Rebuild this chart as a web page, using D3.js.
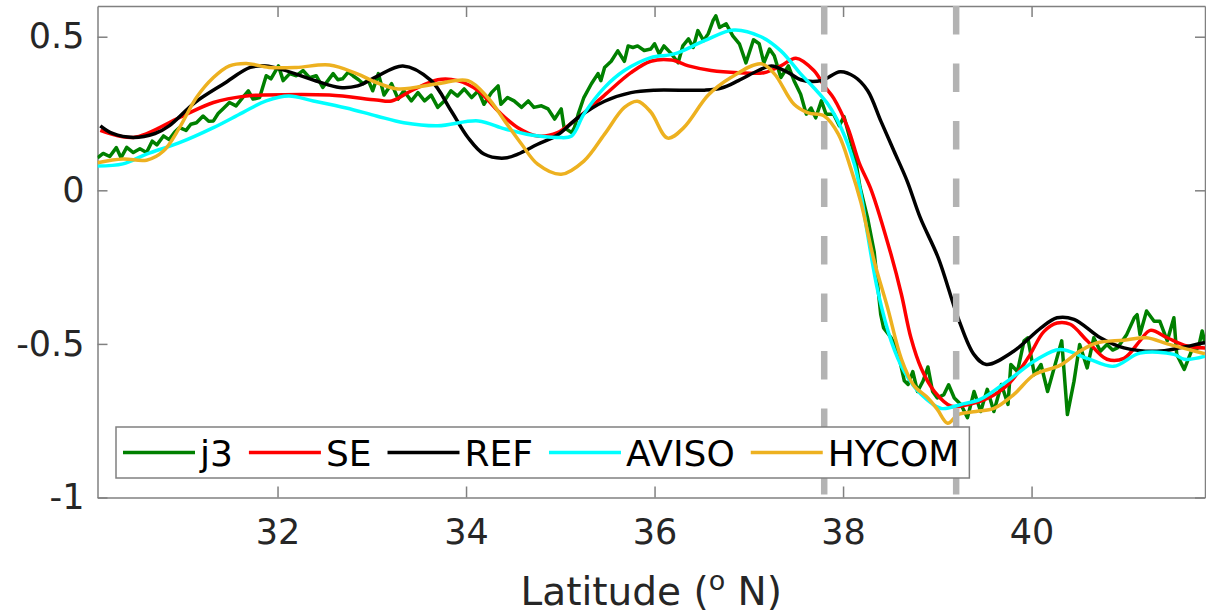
<!DOCTYPE html>
<html>
<head>
<meta charset="utf-8">
<script src="https://cdn.jsdelivr.net/npm/d3@7"></script>
<style>
  body { margin: 0; background: #fff; }
  svg { display: block; font-family: "DejaVu Sans", sans-serif; }
</style>
</head>
<body>
<div id="chart"></div>
<script>
// Series as [latitude, value] pairs
const j3 = [
  [30.09,0.106],[30.15,0.12],[30.22,0.11],[30.29,0.139],[30.34,0.106],[30.40,0.14],[30.47,0.123],[30.54,0.135],
  [30.61,0.123],[30.67,0.16],[30.72,0.148],[30.79,0.177],[30.85,0.165],[30.91,0.19],[30.96,0.204],[31.03,0.195],
  [31.08,0.215],[31.14,0.22],[31.21,0.242],[31.27,0.225],[31.32,0.226],[31.37,0.25],[31.42,0.265],[31.49,0.286],
  [31.56,0.275],[31.63,0.302],[31.69,0.324],[31.74,0.297],[31.81,0.302],[31.88,0.373],[31.93,0.363],[32.01,0.405],
  [32.06,0.357],[32.13,0.38],[32.20,0.373],[32.27,0.39],[32.34,0.367],[32.41,0.373],[32.48,0.335],[32.59,0.38],
  [32.64,0.36],[32.69,0.363],[32.75,0.385],[32.80,0.373],[32.86,0.36],[32.91,0.347],[32.96,0.36],[33.01,0.324],
  [33.07,0.38],[33.13,0.31],[33.21,0.347],[33.28,0.297],[33.34,0.324],[33.42,0.291],[33.49,0.318],[33.56,0.291],
  [33.63,0.31],[33.70,0.27],[33.77,0.291],[33.84,0.324],[33.91,0.307],[33.98,0.33],[34.06,0.302],[34.13,0.324],
  [34.19,0.28],[34.27,0.318],[34.34,0.34],[34.37,0.28],[34.44,0.302],[34.51,0.291],[34.59,0.27],[34.66,0.291],
  [34.72,0.27],[34.80,0.275],[34.87,0.265],[34.94,0.232],[35.01,0.265],[35.04,0.204],[35.12,0.188],[35.15,0.204],
  [35.19,0.248],[35.25,0.302],[35.33,0.347],[35.40,0.38],[35.43,0.357],[35.47,0.40],[35.54,0.42],[35.61,0.454],
  [35.68,0.42],[35.72,0.47],[35.77,0.465],[35.82,0.47],[35.89,0.455],[35.96,0.46],[36.00,0.477],[36.05,0.444],
  [36.10,0.47],[36.18,0.444],[36.25,0.415],[36.30,0.47],[36.36,0.493],[36.41,0.465],[36.46,0.52],[36.52,0.487],
  [36.57,0.51],[36.62,0.552],[36.65,0.568],[36.69,0.53],[36.76,0.542],[36.83,0.503],[36.90,0.477],[36.97,0.415],
  [37.05,0.49],[37.11,0.477],[37.16,0.415],[37.22,0.46],[37.27,0.438],[37.34,0.367],[37.42,0.405],[37.48,0.357],
  [37.55,0.313],[37.61,0.248],[37.66,0.268],[37.71,0.236],[37.77,0.291],[37.82,0.248],[37.90,0.248],[37.96,0.21],
  [38.01,0.24],[38.08,0.16],[38.13,0.105],[38.18,0.01],[38.26,-0.09],[38.33,-0.2],[38.40,-0.405],[38.43,-0.448],
  [38.51,-0.48],[38.58,-0.524],[38.65,-0.62],[38.69,-0.632],[38.74,-0.59],[38.79,-0.655],[38.85,-0.62],[38.90,-0.575],
  [38.95,-0.655],[39.00,-0.676],[39.07,-0.665],[39.12,-0.633],[39.18,-0.676],[39.25,-0.697],[39.32,-0.74],[39.39,-0.655],
  [39.46,-0.72],[39.53,-0.648],[39.60,-0.72],[39.68,-0.632],[39.75,-0.697],[39.78,-0.567],[39.85,-0.59],[39.92,-0.49],
  [39.96,-0.48],[40.03,-0.6],[40.10,-0.567],[40.17,-0.655],[40.24,-0.578],[40.32,-0.49],[40.38,-0.73],[40.45,-0.622],
  [40.51,-0.502],[40.59,-0.578],[40.66,-0.48],[40.73,-0.524],[40.80,-0.502],[40.86,-0.52],[40.91,-0.513],[41.01,-0.469],
  [41.09,-0.415],[41.12,-0.405],[41.15,-0.469],[41.22,-0.393],[41.30,-0.426],[41.36,-0.426],[41.44,-0.49],[41.51,-0.415],
  [41.54,-0.534],[41.62,-0.583],[41.70,-0.52],[41.77,-0.513],[41.81,-0.458],[41.84,-0.497]
];

const se = [
  [30.12,0.195],[30.47,0.172],[30.96,0.237],[31.32,0.286],[31.67,0.307],[31.85,0.31],[32.55,0.31],[33.05,0.294],
  [33.21,0.291],[33.42,0.324],[33.70,0.36],[33.91,0.357],[34.13,0.324],[34.34,0.258],[34.55,0.204],[34.76,0.177],
  [34.97,0.188],[35.19,0.237],[35.47,0.31],[35.75,0.383],[35.96,0.42],[36.18,0.424],[36.36,0.405],[36.60,0.39],
  [36.89,0.383],[37.16,0.383],[37.34,0.405],[37.50,0.43],[37.69,0.39],[37.80,0.34],[37.90,0.30],[38.05,0.204],
  [38.17,0.09],[38.30,0.0],[38.51,-0.21],[38.62,-0.34],[38.72,-0.48],[38.83,-0.58],[38.97,-0.655],[39.15,-0.703],
  [39.33,-0.697],[39.54,-0.676],[39.75,-0.632],[39.96,-0.547],[40.13,-0.46],[40.27,-0.432],[40.41,-0.436],[40.59,-0.49],
  [40.80,-0.55],[40.98,-0.547],[41.15,-0.49],[41.26,-0.456],[41.44,-0.48],[41.65,-0.507],[41.84,-0.513]
];

const ref = [
  [30.12,0.21],[30.25,0.185],[30.47,0.172],[30.70,0.185],[30.85,0.21],[31.12,0.285],[31.43,0.347],[31.71,0.40],
  [31.88,0.405],[32.06,0.392],[32.41,0.356],[32.66,0.335],[32.85,0.34],[33.05,0.37],[33.33,0.405],[33.63,0.357],
  [33.84,0.26],[34.02,0.172],[34.19,0.118],[34.41,0.105],[34.55,0.118],[34.76,0.15],[34.97,0.18],[35.19,0.237],
  [35.47,0.29],[35.75,0.318],[36.0,0.326],[36.53,0.326],[36.71,0.333],[36.89,0.357],[37.10,0.39],[37.24,0.405],
  [37.42,0.383],[37.55,0.36],[37.77,0.357],[37.97,0.386],[38.12,0.37],[38.26,0.325],[38.40,0.226],[38.54,0.128],
  [38.68,0.03],[38.82,-0.09],[39.01,-0.22],[39.22,-0.415],[39.39,-0.535],[39.52,-0.567],[39.81,-0.524],[40.10,-0.448],
  [40.27,-0.415],[40.45,-0.42],[40.73,-0.48],[40.98,-0.513],[41.33,-0.524],[41.57,-0.513],[41.84,-0.495]
];

const aviso = [
  [30.09,0.079],[30.36,0.086],[30.61,0.118],[30.96,0.155],[31.32,0.204],[31.63,0.253],[31.88,0.291],[32.12,0.307],
  [32.38,0.291],[32.73,0.268],[33.05,0.242],[33.34,0.22],[33.70,0.21],[34.13,0.226],[34.41,0.2],[34.69,0.18],
  [34.97,0.172],[35.12,0.177],[35.25,0.248],[35.47,0.335],[35.68,0.39],[35.96,0.432],[36.21,0.444],[36.53,0.487],
  [36.84,0.522],[37.13,0.5],[37.34,0.454],[37.55,0.379],[37.69,0.334],[37.84,0.28],[37.98,0.203],[38.12,0.085],
  [38.19,-0.013],[38.26,-0.143],[38.37,-0.33],[38.51,-0.49],[38.65,-0.59],[38.83,-0.665],[39.04,-0.71],[39.25,-0.697],
  [39.46,-0.68],[39.74,-0.622],[40.06,-0.55],[40.30,-0.518],[40.59,-0.547],[40.87,-0.573],[41.15,-0.53],[41.51,-0.534],
  [41.62,-0.55],[41.84,-0.54]
];

const hycom = [
  [30.09,0.09],[30.36,0.102],[30.61,0.098],[30.79,0.128],[30.96,0.204],[31.14,0.302],[31.32,0.367],[31.49,0.405],
  [31.67,0.413],[31.91,0.40],[32.20,0.40],[32.55,0.408],[32.84,0.38],[33.05,0.351],[33.28,0.33],[33.70,0.347],
  [34.02,0.357],[34.23,0.302],[34.41,0.226],[34.59,0.15],[34.76,0.085],[35.01,0.052],[35.25,0.095],[35.47,0.183],
  [35.68,0.27],[35.82,0.29],[35.96,0.255],[36.14,0.17],[36.31,0.204],[36.57,0.31],[36.81,0.367],[37.13,0.412],
  [37.27,0.38],[37.48,0.28],[37.63,0.252],[37.80,0.242],[37.95,0.183],[38.08,0.073],[38.19,-0.04],[38.33,-0.23],
  [38.47,-0.38],[38.62,-0.55],[38.75,-0.635],[38.90,-0.676],[39.00,-0.713],[39.11,-0.758],[39.22,-0.73],[39.41,-0.72],
  [39.60,-0.71],[39.81,-0.665],[40.03,-0.6],[40.30,-0.57],[40.51,-0.524],[40.69,-0.497],[40.98,-0.488],[41.22,-0.48],
  [41.44,-0.5],[41.65,-0.517],[41.84,-0.532]
];

const seriesNames = ["j3", "SE", "REF", "AVISO", "HYCOM"];
const seriesColors = ["#008000", "#ff0000", "#000000", "#00ffff", "#edb120"];
const seriesData = [j3, se, ref, aviso, hycom];
const latTicks = [32, 34, 36, 38, 40];
const valTicks = [-1, -0.5, 0, 0.5];
const frontLats = [37.8, 39.2];

// Frame
const width = 1206, height = 614;
const margin = {top: 6, right: 1, bottom: 116.5, left: 97.5};
const vis_width = width - margin.left - margin.right;
const vis_height = height - margin.top - margin.bottom;
const axisColor = "#808080";
const textColor = "#262626";

const svg = d3.select("#chart")
              .append("svg")
              .attr("width", width)
              .attr("height", height);

svg.append("rect").attr("width", width).attr("height", height).attr("fill", "#fff");

const g = svg.append("g")
             .attr("transform", "translate(" + margin.left + "," + margin.top + ")");

const x = d3.scaleLinear().domain([30.09, 41.84]).range([0, vis_width]);
const y = d3.scaleLinear().domain([-1, 0.6]).range([vis_height, 0]);

svg.append("defs").append("clipPath").attr("id", "plotclip")
   .append("rect").attr("width", vis_width).attr("height", vis_height);

// Axes (box with inward ticks, labels on bottom and left only)
function styleAxis(sel) {
  sel.select(".domain").attr("stroke", axisColor).attr("stroke-width", 1.5);
  sel.selectAll(".tick line").attr("stroke", axisColor).attr("stroke-width", 1.5);
  sel.selectAll(".tick text").attr("fill", textColor).attr("font-size", "35px");
  sel.attr("font-family", null);
}

g.append("g")
 .attr("transform", "translate(0," + vis_height + ")")
 .call(d3.axisBottom(x).tickValues(latTicks).tickSizeInner(-11).tickSizeOuter(0).tickPadding(22))
 .call(styleAxis);

g.append("g")
 .call(d3.axisTop(x).tickValues(latTicks).tickSizeInner(-11).tickSizeOuter(0).tickFormat(""))
 .call(styleAxis);

g.append("g")
 .call(d3.axisLeft(y).tickValues(valTicks).tickSizeInner(-10).tickSizeOuter(0).tickPadding(13)
        .tickFormat((d) => {return String(d);}))
 .call(styleAxis);

g.append("g")
 .attr("transform", "translate(" + vis_width + ",0)")
 .call(d3.axisRight(y).tickValues(valTicks).tickSizeInner(-10).tickSizeOuter(0).tickFormat(""))
 .call(styleAxis);

// Data lines
const plot = g.append("g").attr("clip-path", "url(#plotclip)");

const smoothLine = d3.line()
                     .x((d) => {return x(d[0]);})
                     .y((d) => {return y(d[1]);})
                     .curve(d3.curveCatmullRom.alpha(0.5));
const rawLine = d3.line()
                  .x((d) => {return x(d[0]);})
                  .y((d) => {return y(d[1]);});

seriesData.forEach((data, i) => {
  plot.append("path")
      .datum(data)
      .attr("fill", "none")
      .attr("stroke", seriesColors[i])
      .attr("stroke-width", 3.5)
      .attr("stroke-linejoin", "round")
      .attr("d", i === 0 ? rawLine : smoothLine);
});

// Dashed front markers
plot.selectAll(".front")
    .data(frontLats)
    .enter()
    .append("line")
    .attr("x1", (d) => {return x(d);})
    .attr("x2", (d) => {return x(d);})
    .attr("y1", y(0.6))
    .attr("y2", y(-1))
    .attr("stroke", "#b3b3b3")
    .attr("stroke-width", 6.5)
    .attr("stroke-dasharray", "28.5,29");

// X label with superscript o
const xlab = svg.append("text")
                .attr("x", margin.left + vis_width / 2)
                .attr("y", 605)
                .attr("text-anchor", "middle")
                .attr("fill", textColor)
                .attr("font-size", "39px");
xlab.append("tspan").text("Latitude (");
xlab.append("tspan").attr("font-size", "27px").attr("dy", "-15").text("o");
xlab.append("tspan").attr("dy", "15").text(" N)");

// Legend
const legend = svg.append("g").attr("transform", "translate(116,427)");
const legendBox = legend.append("rect")
                        .attr("height", 51)
                        .attr("fill", "#fff")
                        .attr("stroke", axisColor)
                        .attr("stroke-width", 1.5);
let cursor = 7;
seriesNames.forEach((name, i) => {
  legend.append("line")
        .attr("x1", cursor).attr("x2", cursor + 72)
        .attr("y1", 25.5).attr("y2", 25.5)
        .attr("stroke", seriesColors[i])
        .attr("stroke-width", 3.5);
  const t = legend.append("text")
                  .attr("x", cursor + 77)
                  .attr("y", 39)
                  .attr("fill", "#000")
                  .attr("font-size", "36px")
                  .text(name);
  cursor = cursor + 77 + t.node().getComputedTextLength() + 16;
});
legendBox.attr("width", cursor - 6);
</script>
</body>
</html>
